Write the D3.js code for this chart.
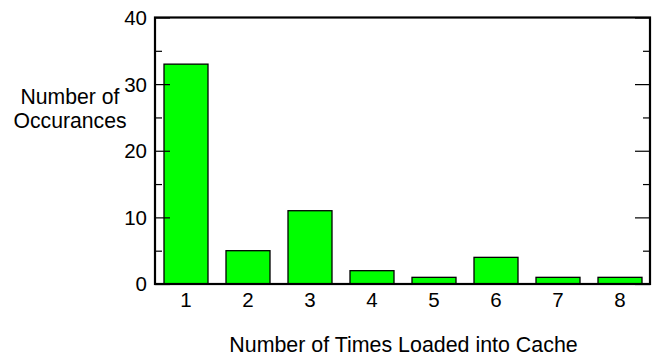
<!DOCTYPE html>
<html>
<head>
<meta charset="utf-8">
<script src="https://cdn.jsdelivr.net/npm/d3@7"></script>
<style>
  html, body { margin: 0; padding: 0; background: #fff; }
  svg { display: block; font-family: "Liberation Sans", Arial, sans-serif; }
</style>
</head>
<body>
<svg id="chart" width="657" height="358"></svg>
<script>
// Histogram of how many times each block was loaded into cache
const categories = ["1", "2", "3", "4", "5", "6", "7", "8"];
const occurrences = [33, 5, 11, 2, 1, 4, 1, 1];
const majorTicks = [0, 10, 20, 30, 40];
const minorTicks = [5, 15, 25, 35];
const xTitle = "Number of Times Loaded into Cache";
const yTitle = ["Number of", "Occurances"];

const plot = { left: 155, right: 650, top: 17.5, bottom: 284 };

const svg = d3.select("#chart");

const x = d3.scaleBand()
  .domain(categories)
  .range([plot.left, plot.right + 1])
  .paddingInner(18 / 62)
  .paddingOuter(9 / 62);

const y = d3.scaleLinear()
  .domain([0, 40])
  .range([plot.bottom, plot.top]);

// Bars
svg.append("g")
  .selectAll("rect")
  .data(occurrences)
  .join("rect")
  .attr("x", (d, i) => x(categories[i]))
  .attr("y", d => y(d))
  .attr("width", x.bandwidth())
  .attr("height", d => y(0) - y(d))
  .attr("fill", "#00ff00")
  .attr("stroke", "#000")
  .attr("stroke-width", 1.3);

// Tick marks on both vertical sides, pointing into the plot
const leftAxis = d3.axisRight(y).tickValues(majorTicks).tickSize(15).tickFormat("");
const leftMinor = d3.axisRight(y).tickValues(minorTicks).tickSize(7).tickFormat("");
const rightAxis = d3.axisLeft(y).tickValues(majorTicks).tickSize(15).tickFormat("");
const rightMinor = d3.axisLeft(y).tickValues(minorTicks).tickSize(7).tickFormat("");

function styleTicks(g) {
  g.select(".domain").remove();
  g.selectAll(".tick line").attr("stroke", "#000").attr("stroke-width", 1.2);
}

svg.append("g").attr("transform", `translate(${plot.left},0)`).call(leftAxis).call(styleTicks);
svg.append("g").attr("transform", `translate(${plot.left},0)`).call(leftMinor).call(styleTicks);
svg.append("g").attr("transform", `translate(${plot.right},0)`).call(rightAxis).call(styleTicks);
svg.append("g").attr("transform", `translate(${plot.right},0)`).call(rightMinor).call(styleTicks);

// Y tick labels
svg.append("g")
  .selectAll("text")
  .data(majorTicks)
  .join("text")
  .attr("x", plot.left - 8)
  .attr("y", d => y(d))
  .attr("dy", "0.36em")
  .attr("text-anchor", "end")
  .attr("font-size", 20.5)
  .attr("fill", "#000")
  .text(d => d);

// X tick labels
const xAxis = d3.axisBottom(x).tickSize(0).tickPadding(8);
const gx = svg.append("g").attr("transform", `translate(0,${plot.bottom})`).call(xAxis);
gx.select(".domain").remove();
gx.selectAll("text").attr("font-size", 20.5).attr("fill", "#000").attr("font-family", null);

// Plot frame
svg.append("rect")
  .attr("x", plot.left)
  .attr("y", plot.top)
  .attr("width", plot.right - plot.left)
  .attr("height", plot.bottom - plot.top)
  .attr("fill", "none")
  .attr("stroke", "#000")
  .attr("stroke-width", 2.2);

// Axis titles
svg.append("text")
  .attr("x", (plot.left + plot.right) / 2 + 1)
  .attr("y", 352)
  .attr("text-anchor", "middle")
  .attr("font-size", 21.4)
  .attr("fill", "#000")
  .text(xTitle);

svg.append("text")
  .attr("text-anchor", "middle")
  .attr("font-size", 21.2)
  .attr("fill", "#000")
  .selectAll("tspan")
  .data(yTitle)
  .join("tspan")
  .attr("x", 70)
  .attr("y", (d, i) => 104 + i * 24)
  .text(d => d);
</script>
</body>
</html>
